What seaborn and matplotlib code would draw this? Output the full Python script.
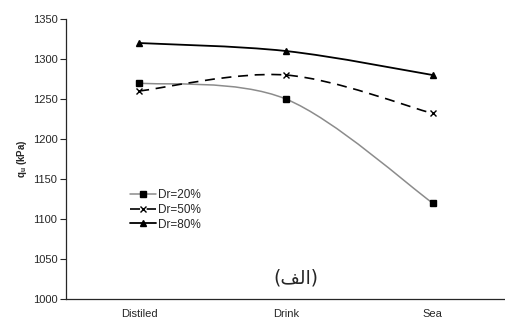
import numpy as np
import pandas as pd
import matplotlib
matplotlib.use("Agg")
import matplotlib.pyplot as plt
from matplotlib.path import Path
from matplotlib.patches import PathPatch
from matplotlib.lines import Line2D
import seaborn as sns

# Bearing capacity for each water type and relative density
water = ["Distiled", "Drink", "Sea"]
dr20 = [1270, 1250, 1120]
dr50 = [1260, 1280, 1232]
dr80 = [1320, 1310, 1280]
series_names = ["Dr=20%", "Dr=50%", "Dr=80%"]
y_ticks = [1000, 1050, 1100, 1150, 1200, 1250, 1300, 1350]
panel_label = "(\uFED2\uFEDF\uFE8D)"  # (الف) in shaped visual order

sns.set_style("ticks")
plt.rcParams["font.family"] = ["Liberation Sans", "DejaVu Sans"]
plt.rcParams["mathtext.fontset"] = "custom"
plt.rcParams["mathtext.rm"] = "Liberation Sans"
plt.rcParams["mathtext.bf"] = "Liberation Sans:bold"

fig = plt.figure(figsize=(5.06, 3.28), dpi=100)
ax = fig.add_axes([0.130, 0.0884, 0.870, 0.8536])

styles = {
    "Dr=20%": dict(line="#8c8c8c", lw=1.1, ls="-", marker="s"),
    "Dr=50%": dict(line="black", lw=1.2, ls=(0, (6, 4)), marker="x"),
    "Dr=80%": dict(line="black", lw=1.3, ls="-", marker="^"),
}


def smooth_path(xs, ys):
    """Cubic Bezier path through the points (Excel-style smoothed line)."""
    pts = np.column_stack([xs, ys]).astype(float)
    n = len(pts)
    verts = [pts[0]]
    codes = [Path.MOVETO]
    for i in range(n - 1):
        p_prev = pts[i - 1] if i > 0 else pts[i]
        p_next2 = pts[i + 2] if i + 2 < n else pts[i + 1]
        c1 = pts[i] + (pts[i + 1] - p_prev) / 6.0
        c2 = pts[i + 1] - (p_next2 - pts[i]) / 6.0
        verts += [c1, c2, pts[i + 1]]
        codes += [Path.CURVE4] * 3
    return Path(verts, codes)


for name, vals in zip(series_names, [dr20, dr50, dr80]):
    st = styles[name]
    d = pd.DataFrame({"water": water, "qu": vals})
    # markers at each data point on the categorical x axis
    sns.lineplot(data=d, x="water", y="qu", color="black", linewidth=0,
                 marker=st["marker"], markersize=4.5, markeredgewidth=1.0,
                 markeredgecolor="black", sort=False, ax=ax, zorder=3)
    xpos = np.asarray(ax.xaxis.convert_units(water), dtype=float)
    patch = PathPatch(smooth_path(xpos, vals), facecolor="none",
                      edgecolor=st["line"], linewidth=st["lw"],
                      linestyle=st["ls"], zorder=1.5)
    ax.add_patch(patch)

ax.set_xlim(-0.5, 2.5)
ax.set_ylim(1000, 1350)
ax.set_yticks(y_ticks)
ax.tick_params(axis="y", length=4, width=0.8, labelsize=8, pad=2)
ax.tick_params(axis="x", length=0, labelsize=8, pad=7.5)
ax.set_xlabel("")
ax.set_ylabel(r"$\mathbf{q_u}$ (kPa)", fontsize=7, fontweight="bold", labelpad=3)
for side in ["top", "right"]:
    ax.spines[side].set_visible(False)
for side in ["left", "bottom"]:
    ax.spines[side].set_linewidth(0.9)

handles = []
for name in series_names:
    st = styles[name]
    handles.append(Line2D([], [], color=st["line"], lw=st["lw"], ls=st["ls"],
                          marker=st["marker"], markersize=4,
                          markerfacecolor="black", markeredgecolor="black"))
ax.legend(handles, series_names, loc="upper left", bbox_to_anchor=(0.132, 0.415),
          frameon=False, fontsize=8.5, handlelength=2.2, handletextpad=0.15,
          labelspacing=0.25, borderpad=0)

ax.text(1.07, 1026, panel_label, ha="center", va="center", fontsize=13.5,
        family=["DejaVu Sans"])

fig.savefig("out.png", dpi=100)
